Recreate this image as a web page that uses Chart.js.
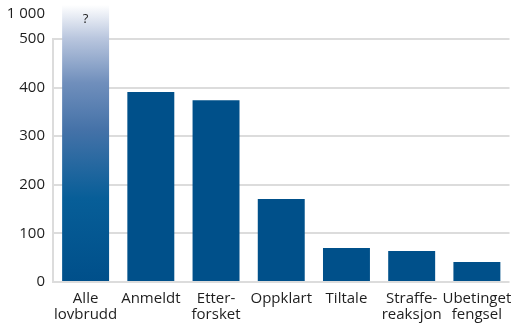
<!DOCTYPE html>
<html>
<head>
<meta charset="utf-8">
<script src="https://cdn.jsdelivr.net/npm/chart.js@4/dist/chart.umd.min.js"></script>
<style>
  html, body { margin: 0; padding: 0; background: #fff; }
  #wrap { width: 520px; height: 325px; }
</style>
</head>
<body>
<div id="wrap"><canvas id="myChart" width="520" height="325"></canvas></div>
<script>
let categories = [["Alle", "lovbrudd"], "Anmeldt", ["Etter-", "forsket"], "Oppklart", "Tiltale", ["Straffe-", "reaksjon"], ["Ubetinget", "fengsel"]];
// first bar is unknown, it runs to the top of the broken axis
let values = [null, 391, 374, 171, 70, 64, 41];
let unknownLabel = "?";
let tickValues = [0, 100, 200, 300, 400, 500];
let breakLabel = "1 000";

let axisTop = 570;      // top of the axis, above the break
let breakPos = 553;     // where the "1 000" label sits

let barColor = "#00508a";
let gridColor = "#dcdcdc";
let textColor = "#1e1e1e";
let fontFamily = "'Open Sans', 'Noto Sans', sans-serif";

let barData = values.map(v => v === null ? axisTop : v);

function gradientFill(context) {
    let chart = context.chart;
    let area = chart.chartArea;
    if (!area) {
        return barColor;
    }
    if (context.dataIndex !== 0) {
        return barColor;
    }
    let y = chart.scales.y;
    let g = chart.ctx.createLinearGradient(0, y.getPixelForValue(0), 0, area.top);
    g.addColorStop(0, "#004f8a");
    g.addColorStop(0.3, "#075e98");
    g.addColorStop(0.55, "#4572a8");
    g.addColorStop(0.72, "#708fbc");
    g.addColorStop(0.88, "#b9c6de");
    g.addColorStop(1, "#ffffff");
    return g;
}

let extras = {
    id: "extras",
    afterDatasetsDraw(chart) {
        let ctx = chart.ctx;
        let y = chart.scales.y;
        let bar = chart.getDatasetMeta(0).data[0];

        ctx.save();
        // axis line from 0 up to 500
        ctx.strokeStyle = gridColor;
        ctx.lineWidth = 2;
        ctx.beginPath();
        ctx.moveTo(chart.chartArea.left, y.getPixelForValue(0) + 1);
        ctx.lineTo(chart.chartArea.left, y.getPixelForValue(500) - 1);
        ctx.stroke();

        ctx.fillStyle = textColor;
        ctx.textBaseline = "middle";
        ctx.font = "15px " + fontFamily;
        ctx.textAlign = "right";
        ctx.fillText(breakLabel, y.right - 8, y.getPixelForValue(breakPos));

        ctx.font = "13px " + fontFamily;
        ctx.textAlign = "center";
        ctx.fillText(unknownLabel, bar.x, y.getPixelForValue(540));
        ctx.restore();
    }
};

let config = {
    type: "bar",
    data: {
        labels: categories,
        datasets: [
            {
                data: barData,
                backgroundColor: gradientFill,
                borderWidth: 0,
                barPercentage: 0.72,
                categoryPercentage: 1
            }
        ]
    },
    options: {
        responsive: false,
        animation: false,
        devicePixelRatio: 1,
        layout: { padding: { top: 5, right: 10, bottom: 0, left: 0 } },
        plugins: {
            legend: { display: false },
            tooltip: { enabled: false }
        },
        scales: {
            x: {
                grid: { display: false, drawTicks: false },
                border: { display: false },
                afterFit: scale => {
                    scale.height = 43;
                },
                ticks: {
                    color: textColor,
                    padding: 8,
                    maxRotation: 0,
                    autoSkip: false,
                    font: { family: fontFamily, size: 15, lineHeight: 1.1 }
                }
            },
            y: {
                min: 0,
                max: axisTop,
                afterBuildTicks: scale => {
                    scale.ticks = tickValues.map(v => ({ value: v }));
                },
                afterFit: scale => {
                    scale.width = 53;
                    scale.paddingTop = 0;
                    scale.paddingBottom = 0;
                },
                border: { display: false },
                grid: {
                    drawTicks: false,
                    lineWidth: 2,
                    color: gridColor
                },
                ticks: {
                    color: textColor,
                    padding: 8,
                    font: { family: fontFamily, size: 15 }
                }
            }
        }
    },
    plugins: [extras]
};

let myChart = new Chart(document.getElementById("myChart"), config);
</script>
</body>
</html>
